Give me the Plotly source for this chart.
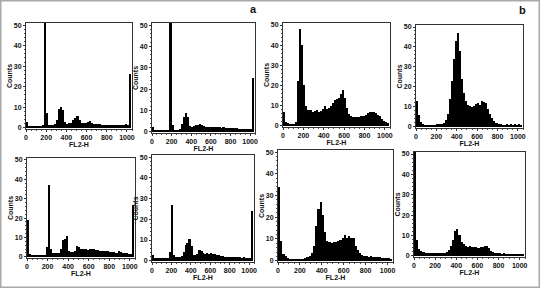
import plotly.graph_objects as go

# ---- data: 20-channel bins of FL2-H (bin centres) ----
channel_bins = [10, 30, 50, 70, 90, 110, 130, 150, 170, 190, 210, 230, 250, 270, 290,
                310, 330, 350, 370, 390, 410, 430, 450, 470, 490, 510, 530, 550, 570,
                590, 610, 630, 650, 670, 690, 710, 730, 750, 770, 790, 810, 830, 850,
                870, 890, 910, 930, 950, 970, 990, 1010, 1030]

x_tick_values = [0, 200, 400, 600, 800, 1000]
y_tick_values = [0, 10, 20, 30, 40, 50]

counts_a1 = [3, 1, 0.8, 0.8, 0.8, 0.8, 0.8, 0.8, 1.2, 53, 7, 1.2, 1.2, 1.3, 1.8,
             4, 9, 10, 8.5, 3, 2, 2.2, 2.5, 4, 5, 5.5, 4, 2.5, 2.2,
             2.5, 3, 3.5, 2.5, 2, 1.8, 1.6, 1.6, 1.5, 1.5, 1.4, 1.4, 1.4, 1.3,
             1.3, 1.2, 1.2, 1.3, 1.2, 1.4, 2, 1.2, 26]
counts_a2 = [2, 1, 0.7, 0.7, 0.7, 0.7, 0.7, 0.7, 0.8, 53, 3, 1, 1, 1, 1.5,
             3.5, 7, 9, 7, 2.5, 2, 2.5, 3, 3, 3.5, 3.2, 2.8, 2.2, 2.3,
             2, 2.4, 2.2, 2, 2.2, 2, 1.8, 2, 1.8, 1.8, 1.7, 1.8, 1.6, 1.6,
             1.7, 1.5, 1.5, 1.4, 1.5, 1.4, 1.3, 1.2, 25]
counts_a3 = [19, 1.5, 1, 1, 1, 1, 1, 1, 1, 5, 37, 4, 2, 2, 2,
             2.2, 4, 8.5, 9, 10.5, 3, 2.5, 2.5, 3, 5.5, 5, 4, 3.8, 3.8,
             3.6, 3.8, 3.8, 4, 3.6, 3.5, 3.2, 3, 3, 2.8, 2.8, 2.6, 2.5, 2.5,
             2.2, 3, 2.5, 2, 2, 1.8, 1.6, 1.5, 27]
counts_a4 = [3, 1.5, 1.5, 1.3, 1.3, 1.2, 1.2, 1.2, 1.5, 4, 27, 3, 2, 2, 2,
             2.2, 4, 7.5, 8.5, 10.5, 7, 3, 3, 3.5, 5, 4.5, 3.8, 3.5, 3.8,
             3.5, 3.6, 3.4, 3.2, 2.8, 2.6, 2.5, 2.2, 2, 2, 1.8, 1.8, 1.8, 1.7,
             1.6, 1.7, 1.6, 1.5, 1.6, 1.5, 1.5, 1.4, 24]
counts_b1 = [7, 2, 1.2, 1, 1, 1, 2, 22, 48, 40, 20, 10, 8, 8, 7,
             7.5, 8, 7, 7.5, 8.5, 10, 8.5, 9, 10, 11.5, 13, 13.5, 14, 16,
             18, 14, 9, 6, 4.8, 4.5, 4.5, 4.2, 4.5, 4.8, 5, 5.5, 6.5, 7,
             7, 7, 6.5, 5.5, 5, 3.5, 2.5, 2, 1.2]
counts_b2 = [13, 6, 2.5, 1.2, 0.7, 0.8, 1, 1, 1, 1, 1.2, 1.2, 1.5, 2, 3.5,
             6.5, 14, 23, 34, 43, 47, 38, 24, 17, 13, 11, 10.5, 10, 10.5,
             11.5, 12, 11, 13, 12.5, 12, 9, 6.5, 4.5, 2.8, 2, 1.5, 1.2, 1,
             1, 1.2, 1, 1.2, 1, 1.2, 1, 1.2, 1]
counts_b3 = [34, 9, 3, 2, 1.3, 1, 1, 1, 1, 1, 1, 1, 1.2, 1.5, 2,
             3.5, 7, 16, 24, 27, 21, 13, 9, 8.5, 8, 8.5, 8.5, 9, 9.5,
             10.5, 12, 10.5, 11.5, 10.5, 10.5, 7, 5, 3.5, 2.5, 2, 2, 1.8, 2,
             1.8, 1.6, 1.6, 1.5, 1.4, 1.3, 1.2, 1.2, 1]
counts_b4 = [52, 8, 3.5, 2.4, 1.8, 1.5, 1.3, 1.2, 1.2, 1.2, 1.2, 1.2, 1.2, 1.3, 1.5,
             2, 3, 5, 8, 12, 13, 10, 7, 6, 5, 4.5, 4.8, 4.5, 4.5,
             4.2, 4, 4.5, 4.2, 4.8, 5, 4, 2.5, 1.8, 1.5, 1.2, 1.2, 1.1, 1.2,
             1, 1.1, 1, 1.1, 1, 1, 1, 0.9, 0.8]

panel_series = [counts_a1, counts_a2, counts_b1, counts_b2,
                counts_a3, counts_a4, counts_b3, counts_b4]

# ---- layout: plot boxes in pixels (left, right, top, bottom) ----
W, H = 540, 288
boxes = [(26, 132, 23, 129), (152, 255, 23, 133), (283, 390, 23, 127), (416, 523, 25, 128),
         (27, 135, 158, 258), (152, 254, 155, 262), (278, 393, 150, 262), (414, 525, 152, 257)]

font_family = "Liberation Sans, Arial, sans-serif"
tick_font = dict(size=7, color="#111", family=font_family, weight="bold")
fig = go.Figure()
layout = {}
for i, (vals, (l, r, t, b)) in enumerate(zip(panel_series, boxes)):
    n = i + 1
    xa = "x" if n == 1 else f"x{n}"
    ya = "y" if n == 1 else f"y{n}"
    fig.add_trace(go.Bar(x=channel_bins, y=vals, width=20, xaxis=xa, yaxis=ya,
                         marker=dict(color="black", line=dict(width=0)),
                         showlegend=False, hoverinfo="skip"))
    layout[f"xaxis{n}"] = dict(
        domain=[l / W, r / W], anchor=ya, range=[0, 1050], automargin=False,
        tickvals=x_tick_values, ticktext=[str(v) for v in x_tick_values],
        ticks="outside", ticklen=2, tickwidth=1, tickcolor="#333",
        showline=True, mirror=True, linecolor="#333", linewidth=1,
        showgrid=False, zeroline=False,
        tickfont=tick_font,
        title=dict(text="FL2-H", font=tick_font, standoff=1),
        minor=dict(ticks="outside", ticklen=1, dtick=50, tickcolor="#555"),
    )
    layout[f"yaxis{n}"] = dict(
        domain=[1 - b / H, 1 - t / H], anchor=xa, range=[-0.6, 51], automargin=False,
        tickvals=y_tick_values, ticktext=[str(v) for v in y_tick_values],
        ticks="outside", ticklen=2, tickwidth=1, tickcolor="#333",
        showline=True, mirror=True, linecolor="#333", linewidth=1,
        showgrid=False, zeroline=False,
        tickfont=tick_font,
        title=dict(text="Counts", font=tick_font, standoff=0),
        minor=dict(ticks="outside", ticklen=1, dtick=2, tickcolor="#555"),
    )

fig.update_layout(
    width=W, height=H, margin=dict(l=0, r=0, t=0, b=0, autoexpand=False),
    paper_bgcolor="white", plot_bgcolor="white", bargap=0,
    annotations=[
        dict(text="<b>a</b>", x=253 / W, y=1 - 9 / H, xref="paper", yref="paper",
             xanchor="center", yanchor="middle",
             showarrow=False, font=dict(size=11, color="#111", family=font_family)),
        dict(text="<b>b</b>", x=522 / W, y=1 - 10 / H, xref="paper", yref="paper",
             xanchor="center", yanchor="middle",
             showarrow=False, font=dict(size=11, color="#111", family=font_family)),
    ],
    shapes=[dict(type="rect", xref="paper", yref="paper", x0=0, y0=0, x1=1, y1=1,
                 line=dict(color="#aaaaaa", width=3))],
    **layout,
)

fig.write_html("out.html", config={"displayModeBar": False},
               post_script="document.body.style.margin='0';document.body.style.padding='0';")
